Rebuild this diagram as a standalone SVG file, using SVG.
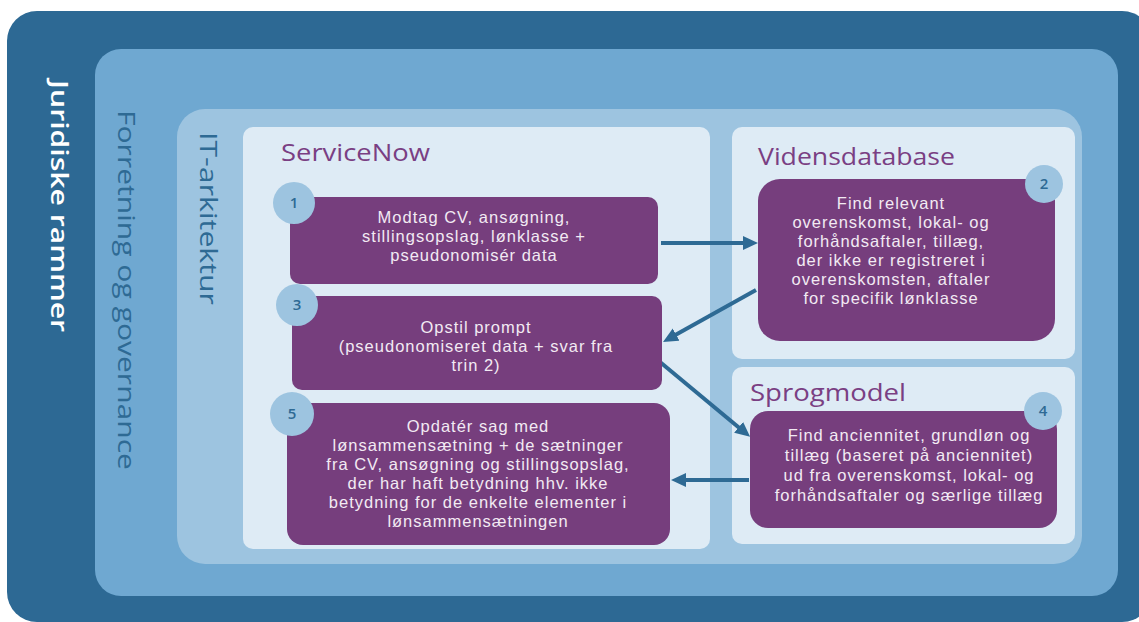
<svg xmlns="http://www.w3.org/2000/svg" width="1139" height="622" viewBox="0 0 1139 622">
<defs>
<style>
.vert{font-family:"Open Sans","Liberation Sans",sans-serif;font-size:24px}
.title{font-family:"Open Sans","Liberation Sans",sans-serif;font-size:24px;fill:#7A3F83}
.step{fill:#763E7D}
.txt{font-family:"Liberation Sans",Arial,sans-serif;font-size:16.5px;letter-spacing:1px;fill:#F2EAF3;text-anchor:middle}
.num{fill:#9DC4E0}
.numt{font-family:"Open Sans","Liberation Sans",sans-serif;font-size:15px;font-weight:600;fill:#2E6A94;text-anchor:middle}
.conn{stroke:#2E6A94;stroke-width:4;fill:none;marker-end:url(#ah)}
</style>
<marker id="ah" markerUnits="userSpaceOnUse" markerWidth="16" markerHeight="16" viewBox="0 0 16 16" refX="3" refY="7" orient="auto">
<path d="M0,0 L15,7 L0,14 z" fill="#2E6A94"/>
</marker>
</defs>
<g id="juridiske">
<rect x="7" y="11" width="1145" height="611" rx="30" fill="#2D6994"/>
<text class="vert" transform="translate(51,80) rotate(90)" fill="#FFFFFF" font-weight="600" textLength="252" lengthAdjust="spacingAndGlyphs">Juridiske rammer</text>
</g>
<g id="forretning">
<rect x="95" y="49" width="1023" height="547" rx="26" fill="#6FA8D1"/>
<text class="vert" transform="translate(118,110) rotate(90)" fill="#2E6A94" textLength="360" lengthAdjust="spacingAndGlyphs">Forretning og governance</text>
</g>
<g id="it-arkitektur">
<rect x="177" y="109" width="905" height="455" rx="28" fill="#9DC4E0"/>
<text class="vert" transform="translate(200,132) rotate(90)" fill="#2E6A94" textLength="173" lengthAdjust="spacingAndGlyphs">IT-arkitektur</text>
</g>
<g id="servicenow">
<rect x="243" y="127" width="467" height="422" rx="10" fill="#DEEBF5"/>
<text class="title" x="281" y="161" textLength="149" lengthAdjust="spacingAndGlyphs">ServiceNow</text>
</g>
<g id="vidensdatabase">
<rect x="732" y="127" width="343" height="232" rx="10" fill="#DEEBF5"/>
<text class="title" x="758" y="165" textLength="197" lengthAdjust="spacingAndGlyphs">Vidensdatabase</text>
</g>
<g id="sprogmodel">
<rect x="732" y="367" width="343" height="177" rx="10" fill="#DEEBF5"/>
<text class="title" x="750" y="401" textLength="156" lengthAdjust="spacingAndGlyphs">Sprogmodel</text>
</g>
<g id="connectors">
<path class="conn" d="M661,243 L746,243"/>
<path class="conn" d="M756,290 L673.5,336.1"/>
<path class="conn" d="M660,362 L740.9,429.2"/>
<path class="conn" d="M749,480 L683,480"/>
</g>
<g id="step1">
<rect class="step" x="290" y="197" width="368" height="87" rx="10"/>
<circle class="num" cx="294" cy="203" r="21"/>
<text class="numt" x="294" y="208">1</text>
<text class="txt"><tspan x="474" y="223">Modtag CV, ansøgning,</tspan><tspan x="474" y="242">stillingsopslag, lønklasse +</tspan><tspan x="474" y="261">pseudonomisér data</tspan></text>
</g>
<g id="step2">
<rect class="step" x="758" y="179" width="297" height="162" rx="22"/>
<circle class="num" cx="1044" cy="184" r="19"/>
<text class="numt" x="1044" y="189">2</text>
<text class="txt"><tspan x="891" y="209">Find relevant</tspan><tspan x="891" y="228">overenskomst, lokal- og</tspan><tspan x="891" y="247">forhåndsaftaler, tillæg,</tspan><tspan x="891" y="266">der ikke er registreret i</tspan><tspan x="891" y="285">overenskomsten, aftaler</tspan><tspan x="891" y="304">for specifik lønklasse</tspan></text>
</g>
<g id="step3">
<rect class="step" x="292" y="296" width="370" height="94" rx="10"/>
<circle class="num" cx="297" cy="305" r="21"/>
<text class="numt" x="297" y="310">3</text>
<text class="txt"><tspan x="476" y="333">Opstil prompt</tspan><tspan x="476" y="352">(pseudonomiseret data + svar fra</tspan><tspan x="476" y="371">trin 2)</tspan></text>
</g>
<g id="step4">
<rect class="step" x="750" y="411" width="307" height="117" rx="18"/>
<circle class="num" cx="1043" cy="411" r="19"/>
<text class="numt" x="1043" y="416">4</text>
<text class="txt"><tspan x="909" y="441">Find anciennitet, grundløn og</tspan><tspan x="909" y="461">tillæg (baseret på anciennitet)</tspan><tspan x="909" y="481">ud fra overenskomst, lokal- og</tspan><tspan x="909" y="501">forhåndsaftaler og særlige tillæg</tspan></text>
</g>
<g id="step5">
<rect class="step" x="287" y="403" width="383" height="142" rx="16"/>
<circle class="num" cx="292" cy="414" r="22"/>
<text class="numt" x="292" y="419">5</text>
<text class="txt"><tspan x="478" y="432">Opdatér sag med</tspan><tspan x="478" y="451">lønsammensætning + de sætninger</tspan><tspan x="478" y="470">fra CV, ansøgning og stillingsopslag,</tspan><tspan x="478" y="489">der har haft betydning hhv. ikke</tspan><tspan x="478" y="508">betydning for de enkelte elementer i</tspan><tspan x="478" y="527">lønsammensætningen</tspan></text>
</g>
</svg>
